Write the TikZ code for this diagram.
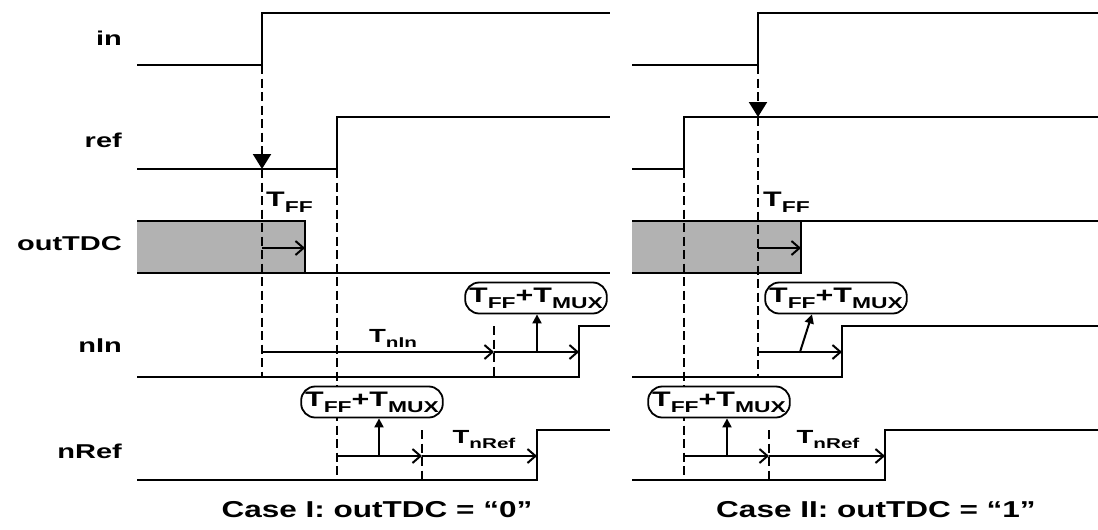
\documentclass[tikz,border=0pt]{standalone}
\usepackage{fontspec}
\setmainfont{Liberation Sans}
\usetikzlibrary{arrows.meta}

\newcommand{\tdly}[1]{T\raisebox{-0.3em}{\scalebox{0.75}{#1}}}
\newcommand{\wide}[2][1.45]{\scalebox{#1}[1]{#2}}

\tikzset{
  wave/.style={line width=2.4pt},
  guide/.style={line width=2.2pt, dash pattern=on 9pt off 4.5pt},
  span/.style={line width=2pt, -{Straight Barb[length=8pt, width=14pt, line width=2pt]}},
  poke/.style={line width=2pt, -{Triangle[length=9pt, width=9pt]}},
  hit/.style={-{Triangle[length=15pt, width=18pt]}},
  sig/.style={font=\bfseries\fontsize{20}{20}\selectfont, inner sep=0pt},
  tlbl/.style={font=\bfseries\fontsize{21}{21}\selectfont, inner sep=0pt},
  tsml/.style={font=\bfseries\fontsize{19}{19}\selectfont, inner sep=0pt},
  bubble/.style={tlbl, draw, line width=1.8pt, fill=white, rounded corners=14pt, minimum height=31pt, inner xsep=4pt},
  caption/.style={font=\bfseries\fontsize{23}{23}\selectfont, inner sep=0pt}
}

\begin{document}
\begin{tikzpicture}[x=1pt, y=-1pt]
	\useasboundingbox (0,0) rectangle (1098,530);
	
	% signal names
	\foreach \s/\y in {in/45, ref/147, outTDC/250, nIn/352, nRef/458}
		\node[sig, anchor=base east] (n-\s) at (122,\y) {\wide{\s}};
	
	% Case I
	\fill[black!30] (137,221) rectangle (305,273);
	\draw[wave] (137,65) -- (262,65) -- (262,13) -- (610,13);
	\draw[wave] (137,169) -- (337,169) -- (337,117) -- (610,117);
	\draw[wave] (137,221) -- (305,221) -- (305,273);
	\draw[wave] (137,273) -- (610,273);
	\draw[wave] (137,377) -- (579,377) -- (579,326) -- (610,326);
	\draw[wave] (137,480) -- (537,480) -- (537,430) -- (610,430);
	
	\draw[guide, hit] (262,65) -- (262,169);
	\draw[guide] (262,169) -- (262,377);
	\draw[guide] (337,169) -- (337,480);
	\draw[guide] (494,326) -- (494,377);
	\draw[guide] (422,430) -- (422,480);
	
	\draw[span] (262,248) -- (305,248);
	\draw[span] (262,352) -- (494,352);
	\draw[span] (494,352) -- (579,352);
	\draw[span] (337,456) -- (422,456);
	\draw[span] (422,456) -- (537,456);
	
	\node[tlbl, anchor=base west] (a-ff) at (266,206) {\wide{\tdly{FF}}};
	\node[tsml, anchor=base] (a-nin) at (393,342) {\wide{\tdly{nIn}}};
	\node[tsml, anchor=base] (a-nref) at (484,443) {\wide{\tdly{nRef}}};
	\node[bubble] (a-mux1) at (536,298) {\wide{\tdly{FF}+\tdly{MUX}}};
	\node[bubble] (a-mux2) at (372,402) {\wide{\tdly{FF}+\tdly{MUX}}};
	\draw[poke] (537,352) -- (537,352 |- a-mux1.south);
	\draw[poke] (379,456) -- (379,456 |- a-mux2.south);
	\node[caption] (a-cap) at (377,510) {\wide[1.37]{Case I: outTDC = ``0''}};
	
	% Case II
	\fill[black!30] (632,221) rectangle (801,273);
	\draw[wave] (632,65) -- (758,65) -- (758,13) -- (1098,13);
	\draw[wave] (632,169) -- (684,169) -- (684,117) -- (1098,117);
	\draw[wave] (632,273) -- (801,273) -- (801,221);
	\draw[wave] (632,221) -- (1098,221);
	\draw[wave] (632,377) -- (842,377) -- (842,326) -- (1098,326);
	\draw[wave] (632,480) -- (885,480) -- (885,430) -- (1098,430);
	
	\draw[guide, hit] (758,65) -- (758,117);
	\draw[guide] (758,117) -- (758,377);
	\draw[guide] (684,169) -- (684,480);
	\draw[guide] (769,430) -- (769,480);
	
	\draw[span] (758,248) -- (801,248);
	\draw[span] (758,352) -- (842,352);
	\draw[span] (684,456) -- (769,456);
	\draw[span] (769,456) -- (885,456);
	
	\node[tlbl, anchor=base west] (b-ff) at (763,206) {\wide{\tdly{FF}}};
	\node[tsml, anchor=base] (b-nref) at (828,443) {\wide{\tdly{nRef}}};
	\node[bubble] (b-mux1) at (836,298) {\wide{\tdly{FF}+\tdly{MUX}}};
	\node[bubble] (b-mux2) at (719,402) {\wide{\tdly{FF}+\tdly{MUX}}};
	\draw[poke] (800,352) -- (812,352 |- b-mux1.south);
	\draw[poke] (727,456) -- (727,456 |- b-mux2.south);
	\node[caption] (b-cap) at (876,510) {\wide[1.37]{Case II: outTDC = ``1''}};
\end{tikzpicture}
\end{document}
